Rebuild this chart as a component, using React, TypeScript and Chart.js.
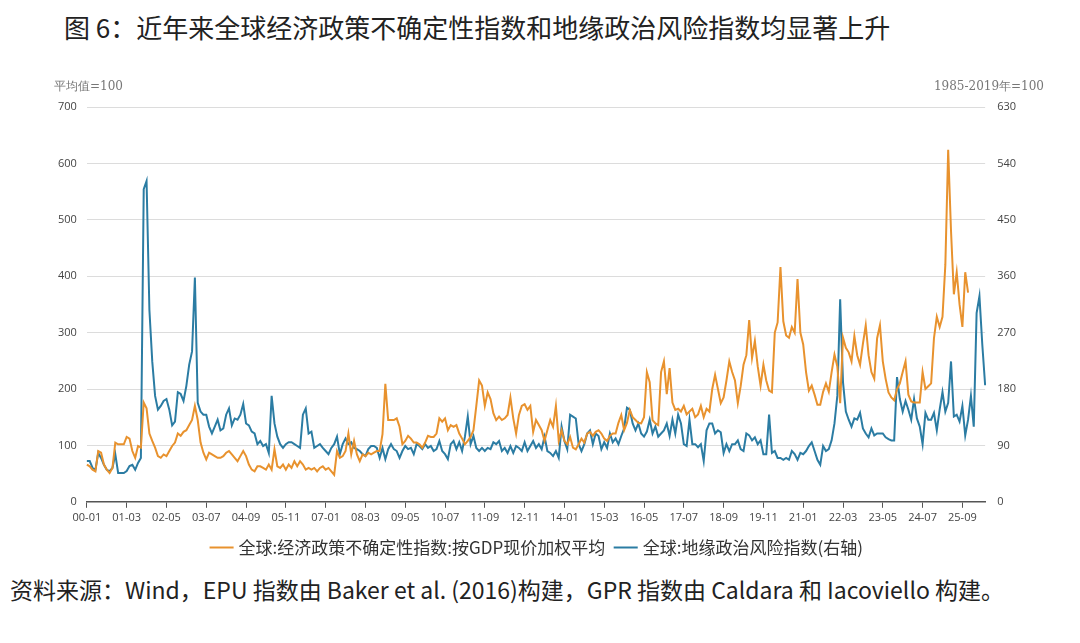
import React, { useEffect, useRef } from "react";
import { Chart, registerables } from "chart.js";
Chart.register(...registerables);

const START_YEAR = 2000;
const N = 317;
const categories: string[] = [];
for (let i = 0; i < N; i++) {
  const y = START_YEAR + Math.floor(i / 12);
  const m = (i % 12) + 1;
  categories.push(String(y % 100).padStart(2, "0") + "-" + String(m).padStart(2, "0"));
}

// 全球经济政策不确定性指数（左轴）
const epuPart1 = [
  66,63,57,54,90,87,66,57,51,60,
  105,102,102,102,115,112,90,78,99,96,
  176,166,121,108,96,81,78,84,81,90,
  99,105,121,117,124,127,136,145,170,145,
  105,87,75,87,84,81,78,78,81,87,
  90,84,78,72,81,90,81,66,57,54,
  63,63,60,57,66,57,93,63,60,66,
  57,66,60,72,63,72,66,57,60,57,
  60,54,60,63,57,60,54,48,90,78,
  81,90,121,84,108,84,72,84,81,87,
  84,87,90,90,120,
];
const epuPart2 = [
  209,145,145,145,148,133,102,108,117,112,
  105,105,102,96,105,117,115,115,121,148,
  142,148,127,136,133,136,121,112,102,108,
  115,127,170,215,206,170,194,182,157,145,
  151,145,148,154,185,148,121,154,170,173,
  163,170,124,145,136,127,108,127,145,133,
  170,108,127,108,102,115,96,93,102,112,
  105,121,124,117,124,127,121,112,108,117,
  121,
  121,140,154,127,140,163,150,145,140,139,
  150,230,212,145,139,136,230,249,191,237,
  176,163,165,160,170,155,
];
const epuPart3 = [
  160,165,150,155,170,150,165,160,200,225,
  200,175,185,215,249,230,215,175,205,243,
  260,322,255,285,240,206,243,215,197,194,
  300,318,416,320,295,291,310,300,395,300,
  279,230,197,206,190,172,172,195,210,195,
  230,261,240,175,291,273,265,249,294,260,
  243,280,313,260,230,218,290,313,249,218,
  194,185,180,200,210,230,249,190,178,176,
  176,176,230,200,205,210,290,328,310,328,
  420,624,480,368,407,350,310,407,371,
];
const epuValues: (number | null)[] = [...epuPart1, ...epuPart2, ...epuPart3];

// 全球地缘政治风险指数（右轴）
const gprPart1 = [
  65,65,54,51,78,70,59,51,49,54,
  76,46,46,46,49,57,59,51,62,70,
  499,512,306,224,169,147,153,161,164,147,
  122,128,175,172,161,185,219,240,358,158,
  144,139,139,120,109,120,131,114,117,139,
  149,122,133,131,139,156,125,122,112,109,
  92,97,89,92,78,169,125,104,92,86,
  92,95,95,92,89,86,139,149,109,112,
  86,89,92,86,81,76,86,92,104,76,
  92,101,92,95,86,84,81,76,73,84,
  89,89,86,70,86,
];
const gprPart2 = [
  68,84,92,84,81,70,81,89,84,86,
  76,92,89,84,92,86,89,81,84,97,
  81,76,68,92,97,84,95,81,104,136,
  92,105,86,81,86,81,86,84,95,92,
  97,81,86,78,89,78,89,86,81,95,
  81,89,97,86,92,84,104,81,78,73,
  81,70,120,97,84,139,136,133,92,81,
  92,109,114,92,109,105,84,95,86,109,
  95,101,92,105,117,150,147,125,114,125,
  109,104,112,131,109,120,104,109,114,125,
  105,131,109,139,125,92,89,
];
const gprPart3 = [
  131,92,92,87,92,65,114,125,125,109,
  114,111,78,92,81,92,92,98,84,81,
  109,106,98,103,92,98,76,76,139,78,
  81,70,70,67,70,67,81,76,67,78,
  76,81,89,95,81,67,59,89,81,84,
  98,125,169,323,191,144,131,120,133,131,
  142,117,109,103,117,106,109,109,109,103,
  100,98,98,199,164,144,161,147,131,164,
  133,120,92,142,131,131,142,114,147,175,
  144,158,224,136,139,128,153,106,131,169,
  120,301,328,251,186,
];
const gprValues = [...gprPart1, ...gprPart2, ...gprPart3];

const leftTicks = [0, 100, 200, 300, 400, 500, 600, 700];
const rightTicks = [0, 90, 180, 270, 360, 450, 540, 630];

const ORANGE = "#E8922E";
const BLUE = "#2B7CA3";

export default function App() {
  const ref = useRef<HTMLCanvasElement | null>(null);
  useEffect(() => {
    if (!ref.current) return;
    const chart = new Chart(ref.current, {
      type: "line",
      data: {
        labels: categories,
        datasets: [
          {
            label: "全球:经济政策不确定性指数:按GDP现价加权平均",
            data: epuValues,
            borderColor: ORANGE,
            backgroundColor: ORANGE,
            borderWidth: 2,
            pointRadius: 0,
            yAxisID: "y",
            tension: 0,
          },
          {
            label: "全球:地缘政治风险指数(右轴)",
            data: gprValues,
            borderColor: BLUE,
            backgroundColor: BLUE,
            borderWidth: 2,
            pointRadius: 0,
            yAxisID: "y1",
            tension: 0,
          },
        ],
      },
      options: {
        animation: false,
        responsive: true,
        maintainAspectRatio: false,
        layout: { padding: { top: 49, left: 40, right: 44, bottom: 0 } },
        plugins: {
          tooltip: { enabled: false },
          legend: {
            position: "bottom",
            labels: {
              usePointStyle: true,
              pointStyle: "line",
              boxWidth: 30,
              padding: 12,
              color: "#333",
              font: { family: "'Noto Sans CJK SC', sans-serif", size: 17 },
            },
          },
        },
        scales: {
          x: {
            offset: false,
            grid: {
              drawOnChartArea: false,
              tickLength: 6,
              color: (c: any) => (c.index % 14 === 0 ? "#555" : "rgba(0,0,0,0)"),
            },
            border: { color: "#555", width: 1.5 },
            ticks: {
              autoSkip: false,
              maxRotation: 0,
              color: "#444",
              font: { family: "'Open Sans', sans-serif", size: 11 },
              callback: (_v: any, i: number) => (i % 14 === 0 ? categories[i] : ""),
            },
          },
          y: {
            position: "left",
            min: 0,
            max: 700,
            afterBuildTicks: (s: any) => { s.ticks = leftTicks.map((v) => ({ value: v })); },
            grid: { color: "#dcdcdc", drawTicks: false },
            border: { display: false },
            ticks: {
              padding: 10,
              color: "#444",
              font: { family: "'Open Sans', sans-serif", size: 11 },
            },
          },
          y1: {
            position: "right",
            min: 0,
            max: 630,
            afterBuildTicks: (s: any) => { s.ticks = rightTicks.map((v) => ({ value: v })); },
            grid: { drawOnChartArea: false, drawTicks: false },
            border: { display: false },
            ticks: {
              padding: 12,
              color: "#444",
              font: { family: "'Open Sans', sans-serif", size: 11 },
            },
          },
        },
      },
    });
    return () => chart.destroy();
  }, []);

  return (
    <div style={{ width: 1064, fontFamily: "'Noto Sans CJK SC', sans-serif" }}>
      <div style={{ height: 50, fontSize: 26, color: "#222", paddingLeft: 56, lineHeight: "38px", whiteSpace: "nowrap" }}>
        图 6：近年来全球经济政策不确定性指数和地缘政治风险指数均显著上升
      </div>
      <div style={{ position: "relative", height: 508 }}>
        <div style={{ position: "absolute", left: 46, top: 20, fontSize: 12, color: "#777", fontFamily: "'DejaVu Serif', serif" }}>
          平均值=100
        </div>
        <div style={{ position: "absolute", right: 28, top: 20, fontSize: 12, color: "#777", fontFamily: "'DejaVu Serif', serif" }}>
          1985-2019年=100
        </div>
        <canvas ref={ref} />
      </div>
      <div style={{ fontSize: 23, color: "#222", paddingLeft: 2, lineHeight: "46px", whiteSpace: "nowrap" }}>
        资料来源：Wind，EPU 指数由 Baker et al. (2016)构建，GPR 指数由 Caldara 和 Iacoviello 构建。
      </div>
    </div>
  );
}
